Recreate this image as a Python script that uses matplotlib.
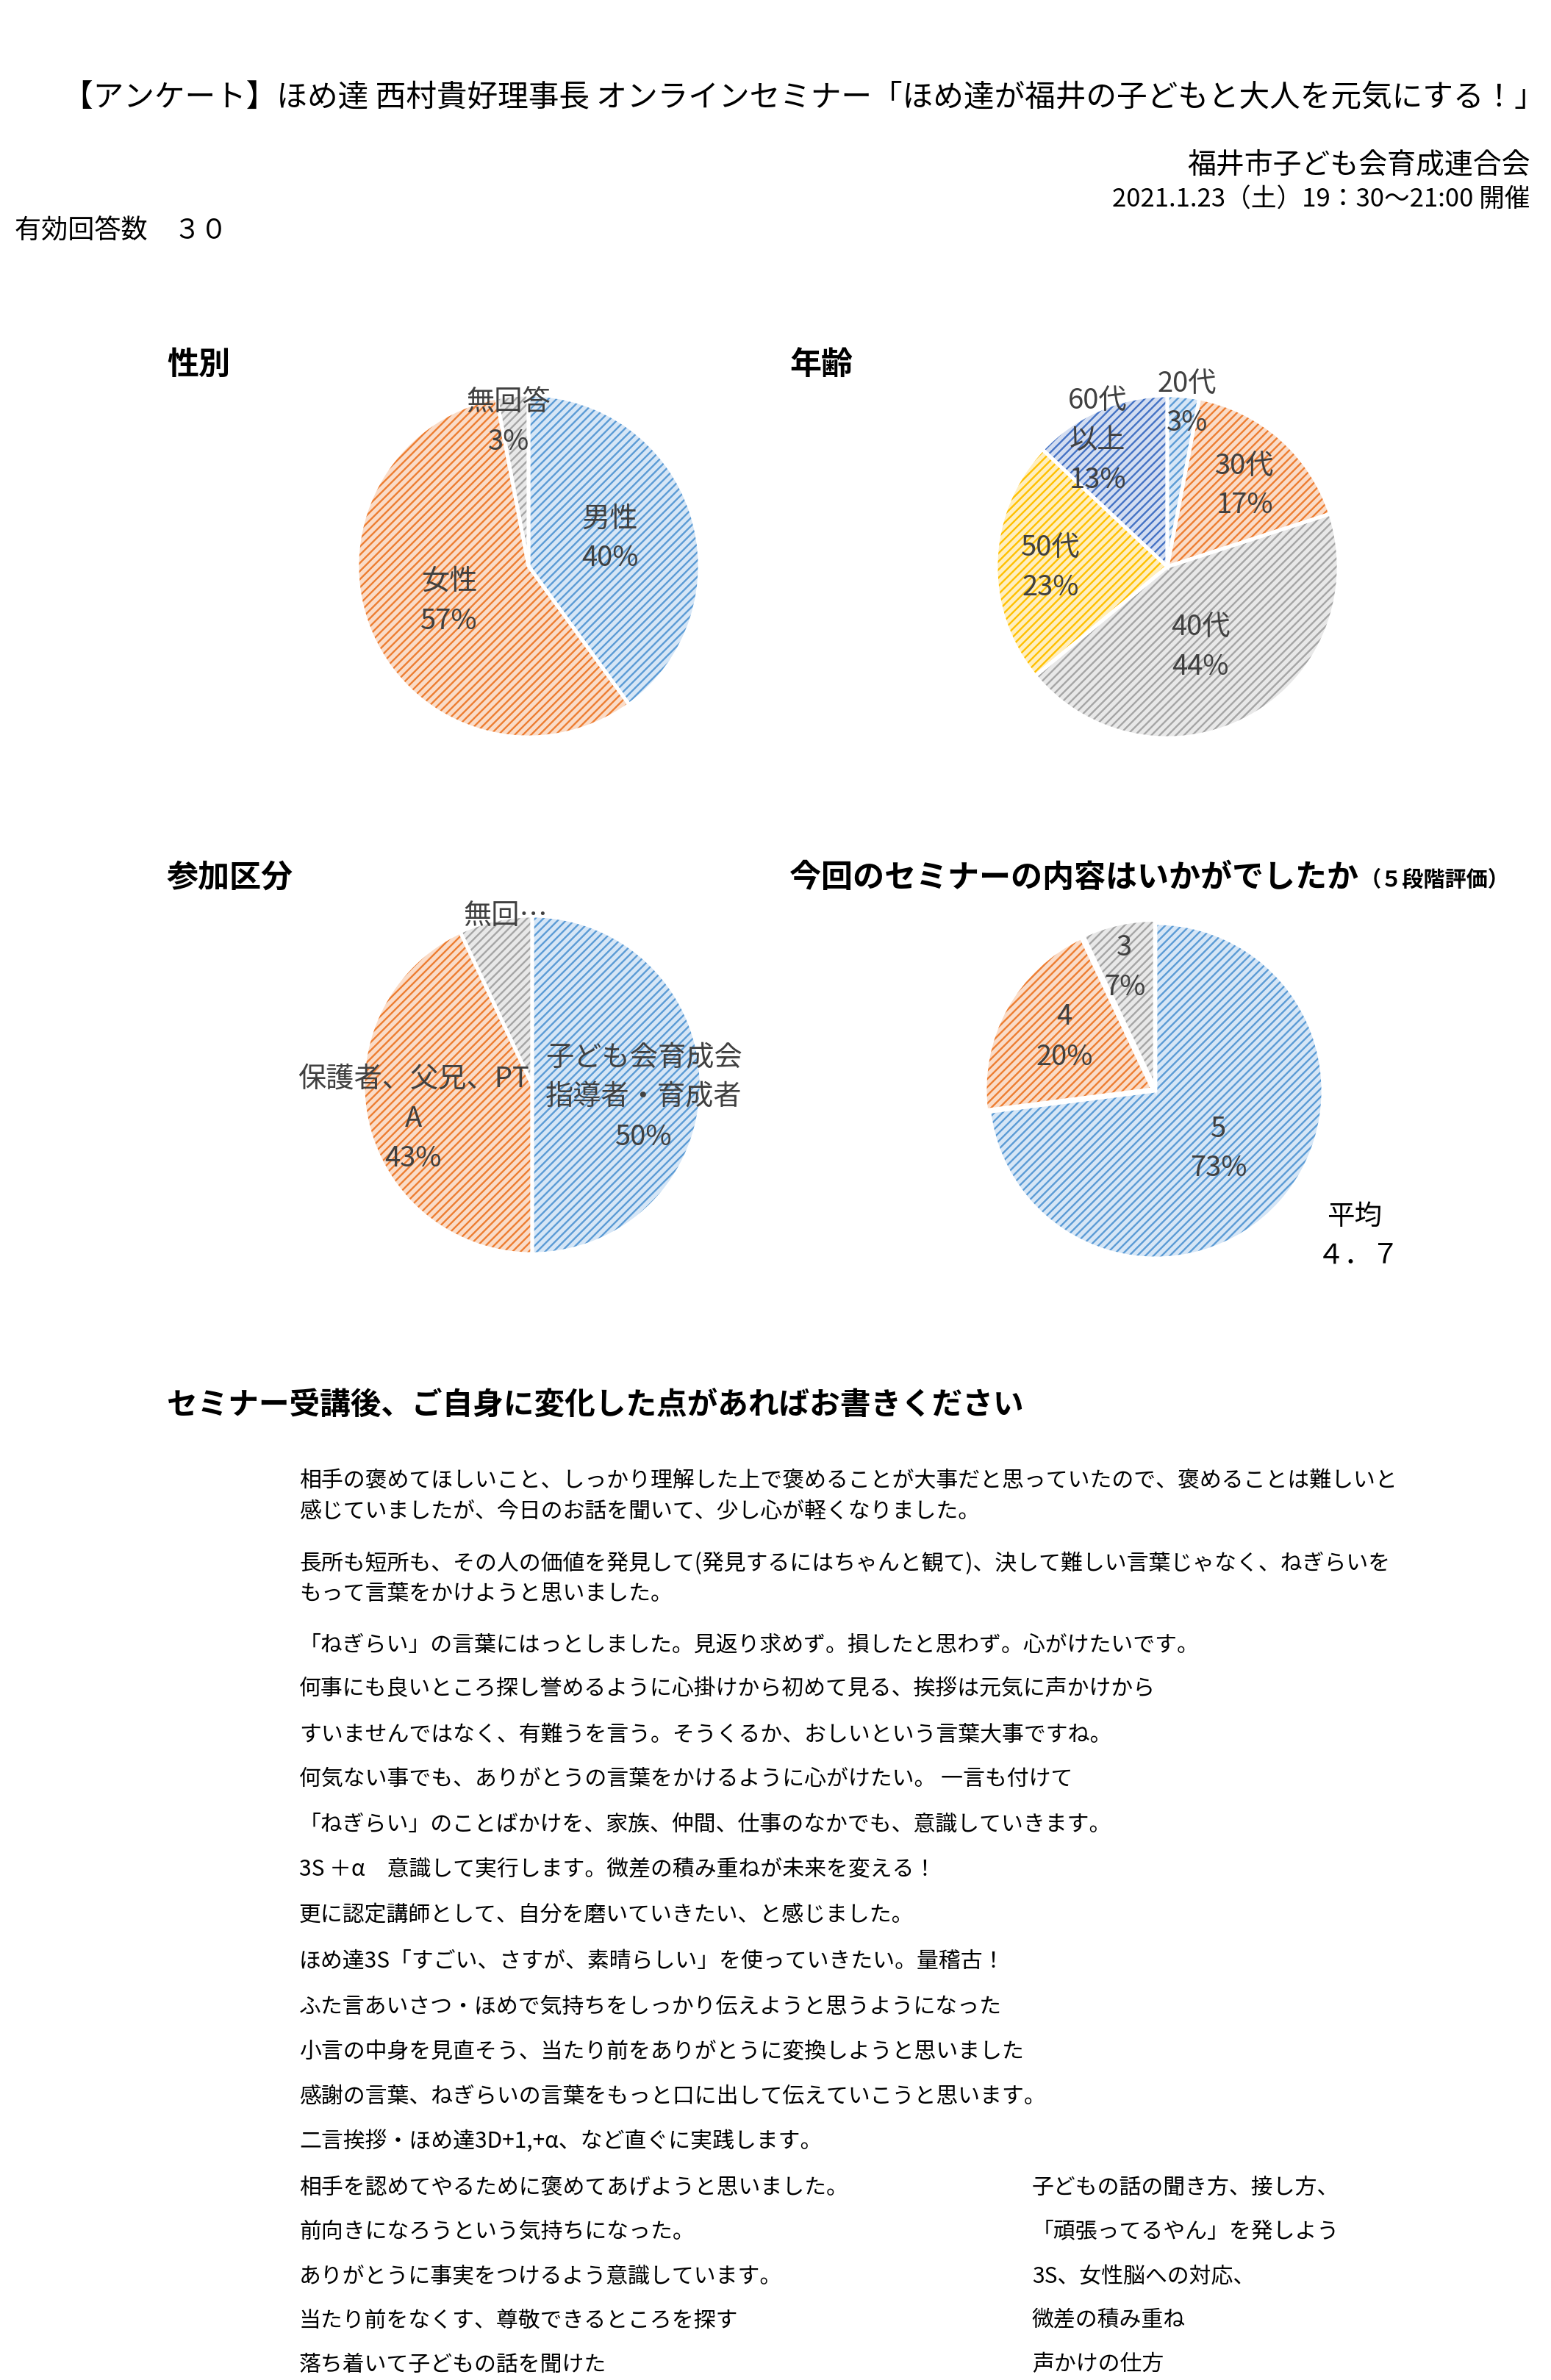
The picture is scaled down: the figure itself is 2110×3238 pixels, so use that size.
import matplotlib
matplotlib.use("Agg")
import matplotlib.pyplot as plt

plt.rcParams["font.family"] = ["Noto Sans CJK JP", "DejaVu Sans"]
plt.rcParams["hatch.linewidth"] = 1.7

# ---------------- data ----------------
title_text = "【アンケート】ほめ達 西村貴好理事長 オンラインセミナー「ほめ達が福井の子どもと大人を元気にする！」"
org_text = "福井市子ども会育成連合会"
date_text = "2021.1.23（土）19：30～21:00 開催"
count_text = "有効回答数　３０"

gender_title = "性別"
gender_labels = ["男性", "女性", "無回答"]
gender_values = [40, 57, 3]

age_title = "年齢"
age_labels = ["20代", "30代", "40代", "50代", "60代\n以上"]
age_values = [3, 17, 44, 23, 13]

part_title = "参加区分"
part_labels = ["子ども会育成会\n指導者・育成者", "保護者、父兄、PT\nA", "無回…"]
part_values = [50, 43, 7]
part_show_pct = [True, True, False]

rating_title = "今回のセミナーの内容はいかがでしたか"
rating_subtitle = "（５段階評価）"
rating_labels = ["5", "4", "3"]
rating_values = [73, 20, 7]
rating_avg_label = "平均"
rating_avg_value = "４．７"

comments_title = "セミナー受講後、ご自身に変化した点があればお書きください"
comments_left = [
    "相手の褒めてほしいこと、しっかり理解した上で褒めることが大事だと思っていたので、褒めることは難しいと",
    "感じていましたが、今日のお話を聞いて、少し心が軽くなりました。",
    "長所も短所も、その人の価値を発見して(発見するにはちゃんと観て)、決して難しい言葉じゃなく、ねぎらいを",
    "もって言葉をかけようと思いました。",
    "「ねぎらい」の言葉にはっとしました。見返り求めず。損したと思わず。心がけたいです。",
    "何事にも良いところ探し誉めるように心掛けから初めて見る、挨拶は元気に声かけから",
    "すいませんではなく、有難うを言う。そうくるか、おしいという言葉大事ですね。",
    "何気ない事でも、ありがとうの言葉をかけるように心がけたい。 一言も付けて",
    "「ねぎらい」のことばかけを、家族、仲間、仕事のなかでも、意識していきます。",
    "3S ＋α　意識して実行します。微差の積み重ねが未来を変える！",
    "更に認定講師として、自分を磨いていきたい、と感じました。",
    "ほめ達3S「すごい、さすが、素晴らしい」を使っていきたい。量稽古！",
    "ふた言あいさつ・ほめで気持ちをしっかり伝えようと思うようになった",
    "小言の中身を見直そう、当たり前をありがとうに変換しようと思いました",
    "感謝の言葉、ねぎらいの言葉をもっと口に出して伝えていこうと思います。",
    "二言挨拶・ほめ達3D+1,+α、など直ぐに実践します。",
    "相手を認めてやるために褒めてあげようと思いました。",
    "前向きになろうという気持ちになった。",
    "ありがとうに事実をつけるよう意識しています。",
    "当たり前をなくす、尊敬できるところを探す",
    "落ち着いて子どもの話を聞けた",
]
comments_right = [
    "子どもの話の聞き方、接し方、",
    "「頑張ってるやん」を発しよう",
    "3S、女性脳への対応、",
    "微差の積み重ね",
    "声かけの仕方",
]

# ---------------- layout / style ----------------
W, H = 2110, 3238
fig = plt.figure(figsize=(W / 100, H / 100), dpi=100)
fig.patch.set_facecolor("white")

STRIPE = {"blue": "#5B9BD5", "orange": "#ED7D31", "gray": "#A5A5A5",
          "yellow": "#FFC000", "dblue": "#4472C4"}
BG = {"blue": "#D6E6F6", "orange": "#FADCC8", "gray": "#E8E8E8",
      "yellow": "#FFEFC0", "dblue": "#D3DDF1"}
LABEL_COLOR = "#404040"
LABEL_SIZE = 27.5
LINE_DY = 54


def ftext(x, y, s, **kw):
    return fig.text(x / W, 1 - y / H, s, **kw)


def draw_pie(cx, cy, r, values, cols, explode=None):
    pad = 1.08
    ax = fig.add_axes([(cx - r * pad) / W, 1 - (cy + r * pad) / H,
                       2 * r * pad / W, 2 * r * pad / H])
    kw = dict(startangle=90, counterclock=False, radius=1, explode=explode)
    w1, _ = ax.pie(values, colors=[BG[c] for c in cols], **kw)
    for w, c in zip(w1, cols):
        w.set_hatch("///")
        w.set_edgecolor(STRIPE[c])
        w.set_linewidth(0)
    ax.pie(values, colors=["none"] * len(values),
           wedgeprops=dict(edgecolor="white", linewidth=3.5), **kw)
    ax.set_xlim(-pad, pad)
    ax.set_ylim(-pad, pad)
    ax.set_aspect("equal")
    ax.axis("off")
    return ax


def pie_labels(labels, values, anchors, show_pct=None):
    for i, (lab, v, (x, y)) in enumerate(zip(labels, values, anchors)):
        lines = lab.split("\n")
        if show_pct is None or show_pct[i]:
            lines = lines + [f"{v}%"]
        for k, ln in enumerate(lines):
            ftext(x, y + k * LINE_DY, ln, ha="center", va="center",
                  fontsize=LABEL_SIZE, color=LABEL_COLOR)


# header
ftext(1093, 134, title_text, ha="center", va="center", fontsize=30, color="black")
ftext(2082, 224, org_text, ha="right", va="center", fontsize=28, color="black")
ftext(2082, 272, date_text, ha="right", va="center", fontsize=25, color="black")
ftext(20, 315, count_text, ha="left", va="center", fontsize=26, color="black")

# pie section titles
HEAD = dict(ha="left", va="center", fontsize=31, fontweight="bold", color="black")
ftext(227, 496, gender_title, **HEAD)
ftext(1074, 496, age_title, **HEAD)
ftext(227, 1194, part_title, **HEAD)
t_rating = ftext(1074, 1194, rating_title, **HEAD)

# pies
draw_pie(719, 770, 233, gender_values, ["blue", "orange", "gray"])
pie_labels(gender_labels, gender_values, [(830, 706), (611, 791), (692, 547)])

draw_pie(1588, 771, 233, age_values, ["blue", "orange", "gray", "yellow", "dblue"])
pie_labels(age_labels, age_values,
           [(1615, 522), (1693, 634), (1633, 853), (1429, 745), (1493, 545)])

draw_pie(724, 1476, 230, part_values, ["blue", "orange", "gray"])
pie_labels(part_labels, part_values, [(876, 1439), (562, 1468), (688, 1247)],
           show_pct=part_show_pct)

draw_pie(1572, 1484, 228, rating_values, ["blue", "orange", "gray"],
         explode=[0, 0.02, 0.02])
pie_labels(rating_labels, rating_values, [(1658, 1536), (1448, 1384), (1530, 1289)])
ftext(1843, 1655, rating_avg_label, ha="center", va="center", fontsize=27, color="black")
ftext(1848, 1709, rating_avg_value, ha="center", va="center", fontsize=27, color="black")

# subtitle after rating title
fig.canvas.draw()
bb = t_rating.get_window_extent(renderer=fig.canvas.get_renderer())
ftext(bb.x1 + 2, 1197, rating_subtitle, ha="left", va="center",
      fontsize=21, fontweight="bold", color="black")

# comments
ftext(227, 1912, comments_title, ha="left", va="center", fontsize=30,
      fontweight="bold", color="black")
left_y = [2015, 2057, 2127, 2168, 2238, 2298, 2360, 2420, 2482, 2544, 2606,
          2668, 2730, 2792, 2852, 2914, 2976, 3036, 3098, 3157, 3217]
right_y = [2976, 3036, 3098, 3157, 3217]
BODY = dict(ha="left", va="center", fontsize=21.5, color="black")
for s, y in zip(comments_left, left_y):
    ftext(407, y, s, **BODY)
for s, y in zip(comments_right, right_y):
    ftext(1404, y, s, **BODY)

fig.savefig("out.png", dpi=100, facecolor="white")
